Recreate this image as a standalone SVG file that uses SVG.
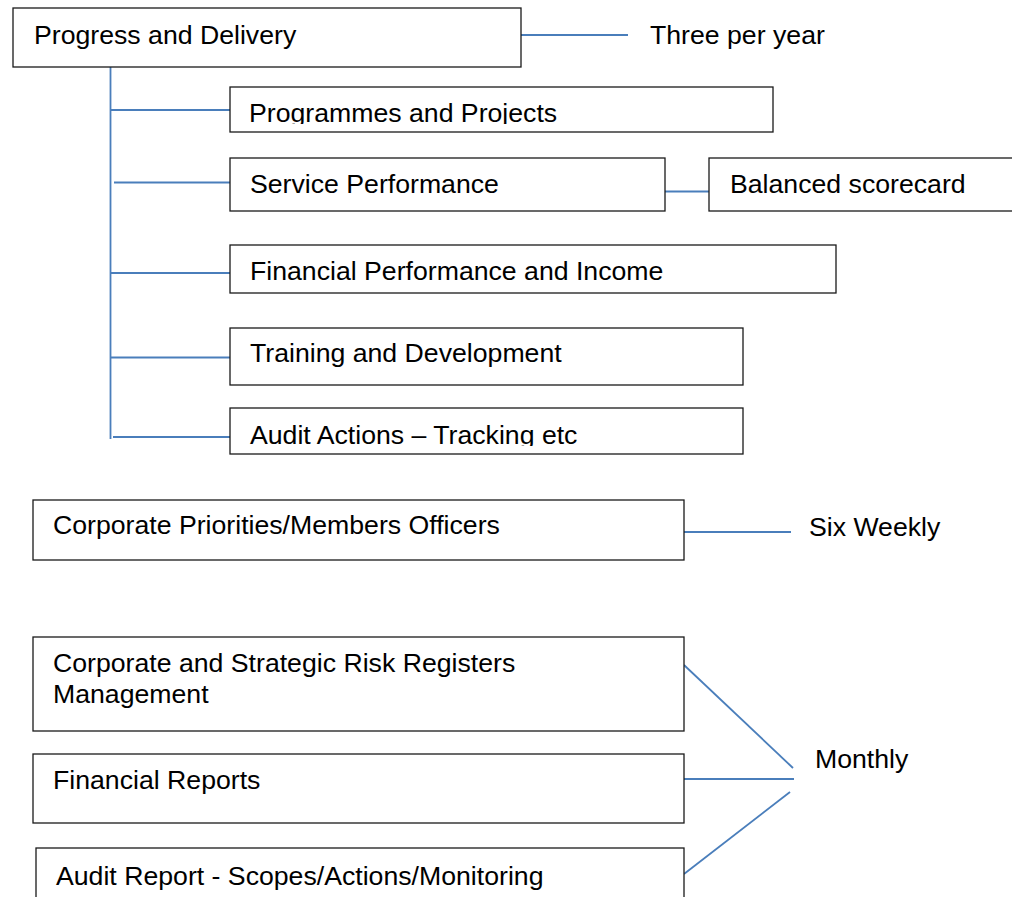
<svg xmlns="http://www.w3.org/2000/svg" width="1012" height="897" viewBox="0 0 1012 897">
<style>
.box{fill:#fff;stroke:#1a1a1a;stroke-width:1.3}
.t{font-family:"Liberation Sans",Arial,sans-serif;font-size:26.67px;fill:#000}
.c{stroke:#4a7ebb;stroke-width:1.8;fill:none}
</style>
<defs>
<clipPath id="clipProg"><rect x="230" y="87" width="543" height="37"/></clipPath>
<clipPath id="clipAudit"><rect x="230" y="408" width="513" height="38"/></clipPath>
</defs>
<rect width="1012" height="897" fill="#fff"/>
<g id="connectors">
<line class="c" x1="521" y1="35" x2="628" y2="35"/>
<line class="c" x1="110.5" y1="67" x2="110.5" y2="439"/>
<line class="c" x1="110" y1="110" x2="230" y2="110"/>
<line class="c" x1="114" y1="182.5" x2="230" y2="182.5"/>
<line class="c" x1="110" y1="273" x2="230" y2="273"/>
<line class="c" x1="110" y1="357.5" x2="230" y2="357.5"/>
<line class="c" x1="113" y1="437" x2="230" y2="437"/>
<line class="c" x1="665" y1="191.5" x2="709" y2="191.5"/>
<line class="c" x1="684" y1="532" x2="791" y2="532"/>
<line class="c" x1="684" y1="665" x2="793" y2="768"/>
<line class="c" x1="684" y1="779" x2="794" y2="779"/>
<line class="c" x1="684" y1="874" x2="790" y2="792"/>
</g>
<g id="progress">
<rect class="box" x="13" y="8" width="508" height="59"/>
<text class="t" x="34" y="44">Progress and Delivery</text>
</g>
<g id="three"><text class="t" x="650" y="44">Three per year</text></g>
<g id="programmes">
<rect class="box" x="230" y="87" width="543" height="45"/>
<text class="t" x="249" y="122" clip-path="url(#clipProg)">Programmes and Projects</text>
</g>
<g id="service">
<rect class="box" x="230" y="158" width="435" height="53"/>
<text class="t" x="250" y="193">Service Performance</text>
</g>
<g id="balanced">
<rect class="box" x="709" y="158" width="310" height="53"/>
<text class="t" x="730" y="193">Balanced scorecard</text>
</g>
<g id="financialperf">
<rect class="box" x="230" y="245" width="606" height="48"/>
<text class="t" x="250" y="280">Financial Performance and Income</text>
</g>
<g id="training">
<rect class="box" x="230" y="328" width="513" height="57"/>
<text class="t" x="250" y="362">Training and Development</text>
</g>
<g id="auditactions">
<rect class="box" x="230" y="408" width="513" height="46"/>
<text class="t" x="250" y="444" clip-path="url(#clipAudit)">Audit Actions – Tracking etc</text>
</g>
<g id="corporate">
<rect class="box" x="33" y="500" width="651" height="60"/>
<text class="t" x="53" y="534">Corporate Priorities/Members Officers</text>
</g>
<g id="sixweekly"><text class="t" x="809" y="536">Six Weekly</text></g>
<g id="risk">
<rect class="box" x="33" y="637" width="651" height="94"/>
<text class="t" x="53" y="672">Corporate and Strategic Risk Registers</text>
<text class="t" x="53" y="703">Management</text>
</g>
<g id="financialreports">
<rect class="box" x="33" y="754" width="651" height="69"/>
<text class="t" x="53" y="789">Financial Reports</text>
</g>
<g id="auditreport">
<rect class="box" x="36" y="848" width="648" height="60"/>
<text class="t" x="56" y="885">Audit Report - Scopes/Actions/Monitoring</text>
</g>
<g id="monthly"><text class="t" x="815" y="768">Monthly</text></g>
</svg>
